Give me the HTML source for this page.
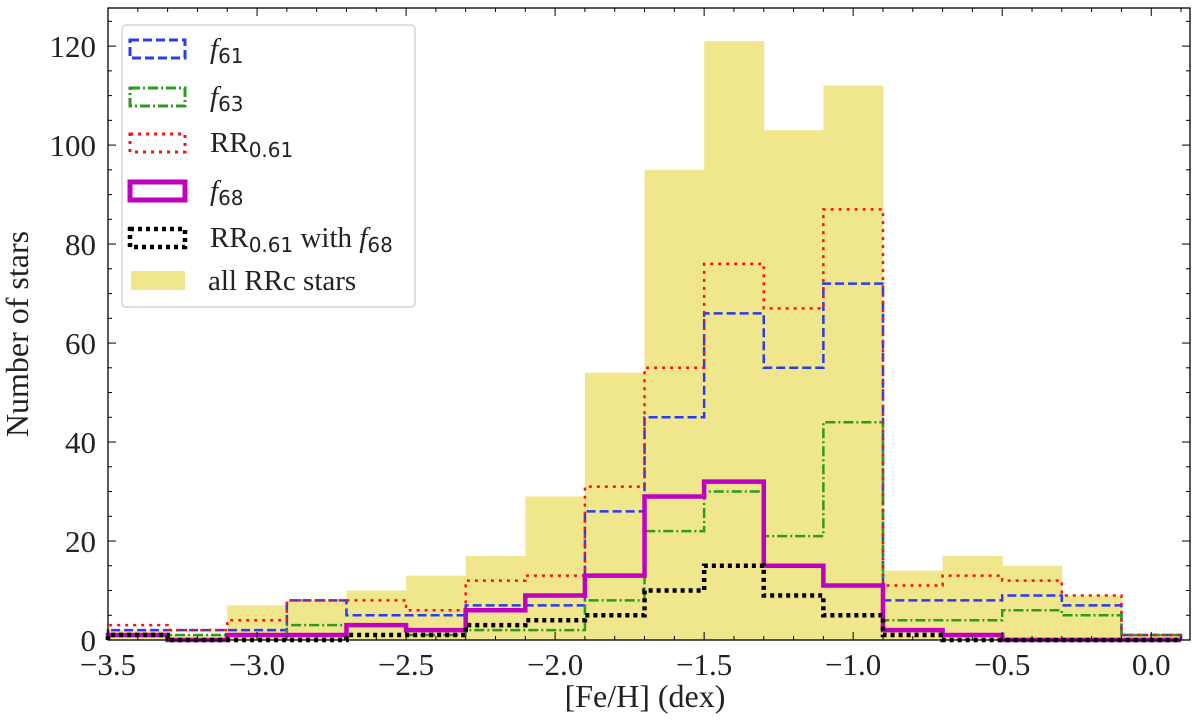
<!DOCTYPE html>
<html><head><meta charset="utf-8"><style>
body{margin:0;background:#fff}
svg text{font-family:"Liberation Serif",serif;fill:#222}
</style></head><body>
<svg id="chart" width="1200" height="720" viewBox="0 0 1200 720" xmlns="http://www.w3.org/2000/svg">
<g id="bars"></g>
<g id="lines"></g>
<g id="axes"></g>
<text x="645" y="707" font-size="32" text-anchor="middle">[Fe/H] (dex)</text>
<text transform="translate(28,334) rotate(-90)" font-size="32" text-anchor="middle">Number of stars</text>
<g>
<rect x="122" y="25" width="293" height="282" rx="4" fill="#fff" fill-opacity="0.85" stroke="#ccc" stroke-width="1.2"/>
<rect x="130" y="40" width="55" height="18" fill="none" stroke="#2a3cf0" stroke-width="3" stroke-dasharray="9,4"/>
<text x="210" y="58" font-size="29"><tspan font-style="italic">f</tspan><tspan font-family="DejaVu Sans" font-size="20" dy="5">61</tspan></text>
<rect x="130" y="88" width="55" height="18" fill="none" stroke="#2e9a20" stroke-width="3" stroke-dasharray="10,3,2,3"/>
<text x="210" y="106" font-size="29"><tspan font-style="italic">f</tspan><tspan font-family="DejaVu Sans" font-size="20" dy="5">63</tspan></text>
<rect x="130" y="134" width="55" height="18" fill="none" stroke="#ff1010" stroke-width="3" stroke-dasharray="3,5"/>
<text x="210" y="152" font-size="29">RR<tspan font-family="DejaVu Sans" font-size="20" dy="5">0.61</tspan></text>
<rect x="130" y="182" width="55" height="18" fill="none" stroke="#bf00bf" stroke-width="5"/>
<text x="210" y="200" font-size="29"><tspan font-style="italic">f</tspan><tspan font-family="DejaVu Sans" font-size="20" dy="5">68</tspan></text>
<rect x="130" y="229" width="55" height="18" fill="none" stroke="#000" stroke-width="4.5" stroke-dasharray="4,4"/>
<text x="210" y="247" font-size="29">RR<tspan font-family="DejaVu Sans" font-size="20" dy="5">0.61</tspan><tspan dy="-5"> with </tspan><tspan font-style="italic">f</tspan><tspan font-family="DejaVu Sans" font-size="20" dy="5">68</tspan></text>
<rect x="131" y="271" width="54" height="19" fill="#f0e68c"/>
<text x="208" y="290" font-size="29">all RRc stars</text>
</g>
</svg>
<script>
const edges=[-3.5,-3.3,-3.1,-2.9,-2.7,-2.5,-2.3,-2.1,-1.9,-1.7,-1.5,-1.3,-1.1,-0.9,-0.7,-0.5,-0.3,-0.1,0.1];
const allRRc=[2,1,7,8,10,13,17,29,54,95,121,103,112,14,17,15,9,1];
const f61=[2,2,2,8,5,5,7,7,26,45,66,55,72,8,8,9,7,1];
const f63=[1,1,1,3,3,1,2,2,8,22,30,21,44,4,4,6,5,1];
const rr061=[3,2,4,8,8,6,12,13,31,55,76,67,87,11,13,12,9,1];
const f68=[1,0,1,1,3,2,6,9,13,29,32,15,11,2,1,0,0,0];
const rrWithF68=[1,0,0,0,1,1,3,4,5,10,15,9,5,1,0,0,0,0];
const xTicks=[-3.5,-3.0,-2.5,-2.0,-1.5,-1.0,-0.5,0.0];
const xTickLabels=["\u22123.5","\u22123.0","\u22122.5","\u22122.0","\u22121.5","\u22121.0","\u22120.5","0.0"];
const yTicks=[0,20,40,60,80,100,120];
const xMin=-3.5,xMax=0.13,yMin=0,yMax=127.7;
const L=108,R=1190,T=8,B=640;
const X=v=>L+(v-xMin)/(xMax-xMin)*(R-L);
const Y=v=>B-(v-yMin)/(yMax-yMin)*(B-T);
const NS="http://www.w3.org/2000/svg";
function mk(tag,attrs,parent){const e=document.createElementNS(NS,tag);for(const k in attrs)e.setAttribute(k,attrs[k]);parent.appendChild(e);return e;}
const bars=document.getElementById('bars');
allRRc.forEach((v,i)=>{const r=mk('rect',{x:X(edges[i]),y:Y(v),width:X(edges[i+1])-X(edges[i])+0.5,height:Y(0)-Y(v),fill:'#f0e68c'},bars);

});
const lines=document.getElementById('lines');
function step(vals,color,w,dash,name){let d='M'+X(edges[0])+','+Y(0);vals.forEach((v,i)=>{d+=' L'+X(edges[i])+','+Y(v)+' L'+X(edges[i+1])+','+Y(v);});d+=' L'+X(edges[edges.length-1])+','+Y(0);
const p=mk('path',{d:d,fill:'none',stroke:color,'stroke-width':w,'stroke-dasharray':dash},lines);

}
step(f61,'#2a3cf0',2.5,'9,4','series-f61');
step(f63,'#2e9a20',2.5,'10,3,2,3','series-f63');
step(rr061,'#ff1010',2.5,'3,5','series-rr061');
step(f68,'#bf00bf',4.5,'none','series-f68');
step(rrWithF68,'#000',4.5,'4,4','series-rr061-with-f68');
const ax=document.getElementById('axes');
mk('rect',{x:L,y:T,width:R-L,height:B-T,fill:'none',stroke:'#000','stroke-width':1.3},ax);
for(let v=-3.5;v<=0.13+1e-9;v+=0.1){const x=X(v);const major=Math.abs(Math.round(v*2)-v*2)<1e-6;const len=major?8:4;
mk('line',{x1:x,y1:B,x2:x,y2:B-len,stroke:'#000','stroke-width':1},ax);mk('line',{x1:x,y1:T,x2:x,y2:T+len,stroke:'#000','stroke-width':1},ax);}
for(let v=0;v<=yMax;v+=5){const y=Y(v);const len=(v%20===0)?8:4;
mk('line',{x1:L,y1:y,x2:L+len,y2:y,stroke:'#000','stroke-width':1},ax);mk('line',{x1:R,y1:y,x2:R-len,y2:y,stroke:'#000','stroke-width':1},ax);}
xTicks.forEach((v,i)=>{const t=mk('text',{x:X(v),y:675,'font-size':31,'text-anchor':'middle'},ax);t.textContent=xTickLabels[i];

});
yTicks.forEach(v=>{const t=mk('text',{x:96,y:Y(v)+11,'font-size':31,'text-anchor':'end'},ax);t.textContent=v;

});
</script>
</body></html>
